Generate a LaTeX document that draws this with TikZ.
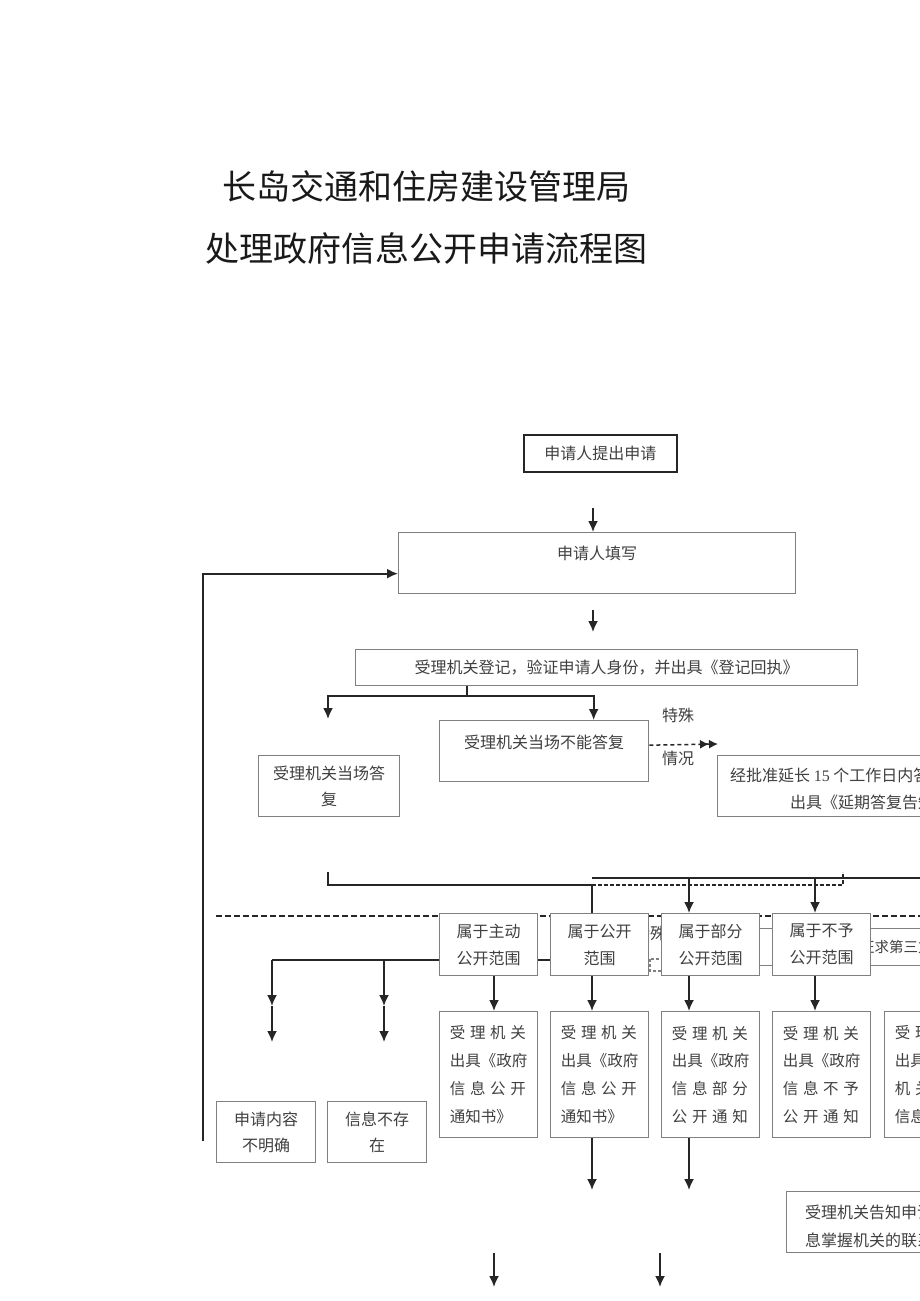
\documentclass[tikz,border=0pt]{standalone}
\usepackage{fontspec}
\newfontfamily\cjk{Noto Sans CJK SC}
\newfontfamily\latinrm{Liberation Serif}
\usetikzlibrary{arrows.meta}
\definecolor{inkgray}{gray}{0.15}
\definecolor{boxgray}{gray}{0.5}
\definecolor{txtgray}{gray}{0.25}
\newcommand\spreadline[4]{\makebox[76pt][s]{#1\hfil#2\hfil#3\hfil#4}}
\tikzset{
  box/.style={draw=boxgray, line width=1.3pt, fill=white, inner sep=0pt, anchor=north west,
    text=txtgray, align=center, font=\cjk\fontsize{16}{26}\selectfont},
  txt/.style={inner sep=0pt, text=txtgray, font=\cjk\fontsize{16}{26}\selectfont},
  headline/.style={inner sep=0pt, text=black!90, font=\cjk\fontsize{34}{40}\selectfont},
  conn/.style={draw=inkgray, line width=1.8pt},
  arr/.style={conn, -{Latex[length=11pt,width=10pt]}},
  sepline/.style={draw=inkgray, line width=1.5pt, dash pattern=on 6pt off 3pt},
}
\begin{document}
\begin{tikzpicture}[x=1pt,y=-1pt]
\clip (0,0) rectangle (920,1301);
\fill[white] (0,0) rectangle (920,1301);

% Title
\node[headline] (head1) at (426,186) {长岛交通和住房建设管理局};
\node[headline] (head2) at (426,248) {处理政府信息公开申请流程图};

% Application and registration
\node[box, draw=inkgray, line width=1.6pt, minimum width=153pt, minimum height=37pt] (apply) at (523,434) {申请人提出申请};
\node[box, minimum width=397pt, minimum height=61pt] (form) at (398,532) {};
\node[txt] (formtxt) at ([yshift=-21pt]form.north) {申请人填写};
\node[box, minimum width=502pt, minimum height=36pt] (reg) at (355,649) {受理机关登记，验证申请人身份，并出具《登记回执》};
\coordinate (arrA) at (593,508);
\coordinate (arrB) at (593,610);
\coordinate (arrBend) at (593,632);
\draw[arr] (arrA) -- (arrA |- form.north);
\draw[arr] (arrB) -- (arrBend);

% Reply on the spot or later
\node[box, minimum width=141pt, minimum height=61pt] (onsite) at (258,755) {受理机关当场答\\复};
\node[box, minimum width=209pt, minimum height=61pt] (cannot) at (439,720) {};
\node[txt] (cannottxt) at ([yshift=-22pt]cannot.north) {受理机关当场不能答复};
\node[box, minimum width=330pt, minimum height=61pt] (extend) at (717,755) {};
\node[txt, anchor=west] (extendA) at (730,776) {经批准延长 {\latinrm 15} 个工作日内答复，};
\node[txt, anchor=west] (extendB) at (790,802) {出具《延期答复告知书》};
\coordinate (split) at (467,696);
\coordinate (onsiteTip) at (328,719);
\draw[conn] (split |- reg.south) -- (split);
\draw[arr] (split) -| (onsiteTip);
\draw[arr] (split) -| ([xshift=49.5pt]cannot.north);
\coordinate (lateTip) at (718,744);
\draw[conn, line width=1.5pt, dash pattern=on 4pt off 3pt, -{Latex[length=9pt,width=9pt] Latex[length=9pt,width=9pt]}] ([yshift=6pt]cannot.east) -- (lateTip);
\node[txt] (special) at (678,715) {特殊};
\node[txt] (case) at (678,758) {情况};

% Loop back to the form
\coordinate (loopEnd) at (203,1141);
\draw[arr] (loopEnd) |- ([yshift=-10.5pt]form.west);

% Things partly hidden behind the category row
\draw[sepline] (216,916) -- (920,916);
\coordinate (brL) at (272,960);
\draw[conn] (brL) -- (599,960);
\draw[boxgray, line width=1.2pt, dash pattern=on 3pt off 2pt] (650,959) rectangle (720,971);
\node[txt, anchor=west] (hidden) at (634,933) {特殊情况};
\node[box, minimum width=300pt, minimum height=37pt] (consult) at (700,928) {};
\node[txt, anchor=west, font=\cjk\fontsize{14.5}{20}\selectfont] (consulttxt) at (860,947) {征求第三方意见};

% Categories
\foreach \n/\x/\t in {act/439/{属于主动\\公开范围}, pub/550/{属于公开\\范围}, part/661/{属于部分\\公开范围}, nogive/772/{属于不予\\公开范围}}
  \node[box, minimum width=98pt, minimum height=62pt, font=\cjk\fontsize{16}{27}\selectfont] (\n) at (\x,913) {\t};

% Notices
\foreach \n/\x/\t in {noteA/439/{\spreadline 受理机关\\出具《政府\\\spreadline 信息公开\\通知书》},
                      noteB/550/{\spreadline 受理机关\\出具《政府\\\spreadline 信息公开\\通知书》},
                      noteC/661/{\spreadline 受理机关\\出具《政府\\\spreadline 信息部分\\\spreadline 公开通知},
                      noteD/772/{\spreadline 受理机关\\出具《政府\\\spreadline 信息不予\\\spreadline 公开通知},
                      noteE/884/{\spreadline 受理机关\\出具《非本\\\spreadline 机关政府\\\makebox[76pt][l]{信息告知书》}}}
  \node[box, align=left, minimum width=98pt, minimum height=126pt, font=\cjk\fontsize{15.5}{27.7}\selectfont] (\n) at (\x,1011) {\t};

\node[box, minimum width=99pt, minimum height=61pt] (unclear) at (216,1101) {申请内容\\不明确};
\node[box, minimum width=99pt, minimum height=61pt] (noexist) at (327,1101) {信息不存\\在};
\node[box, minimum width=260pt, minimum height=61pt] (tell) at (786,1191) {};
\node[txt, anchor=west, align=left, font=\cjk\fontsize{16}{28}\selectfont] (telltxt) at ([xshift=19pt,yshift=-4.5pt]tell.west) {受理机关告知申请人该政府信\\息掌握机关的联系方式};

% Connectors
\foreach \c/\x in {A/494, B/592, C/689, D/815}
  \coordinate (col\c) at (\x,0);
\coordinate (gather) at (328,872);
\coordinate (gatherY) at (0,885);
\coordinate (busY) at (0,878);
\coordinate (busR) at (920,878);
\coordinate (dashEnd) at (843,872);
\coordinate (downY) at (0,1190);
\draw[conn] (gather) |- (colB |- gatherY) -- (colB |- pub.north);
\draw[conn] (colB |- busY) -- (busR);
\draw[conn, line width=1.3pt, dash pattern=on 4pt off 2pt] (colB |- gatherY) -| (dashEnd);
\draw[arr] (colC |- busY) -- (colC |- part.north);
\draw[arr] (colD |- busY) -- (colD |- nogive.north);
\foreach \c/\a/\b in {A/act/noteA, B/pub/noteB, C/part/noteC, D/nogive/noteD}
  \draw[arr] (col\c |- \a.south) -- (col\c |- \b.north);
\draw[arr] (colB |- noteB.south) -- (colB |- downY);
\draw[arr] (colC |- noteC.south) -- (colC |- downY);
\foreach \x in {272,384} {
  \coordinate (dropTop) at (\x,960);
  \coordinate (dropMid) at (\x,1006);
  \coordinate (dropEnd) at (\x,1042);
  \draw[arr] (dropTop) -- (dropMid);
  \draw[arr] (dropMid) -- (dropEnd);
}
\foreach \x in {494,660} {
  \coordinate (lastTop) at (\x,1253);
  \coordinate (lastEnd) at (\x,1287);
  \draw[arr] (lastTop) -- (lastEnd);
}
\end{tikzpicture}
\end{document}
